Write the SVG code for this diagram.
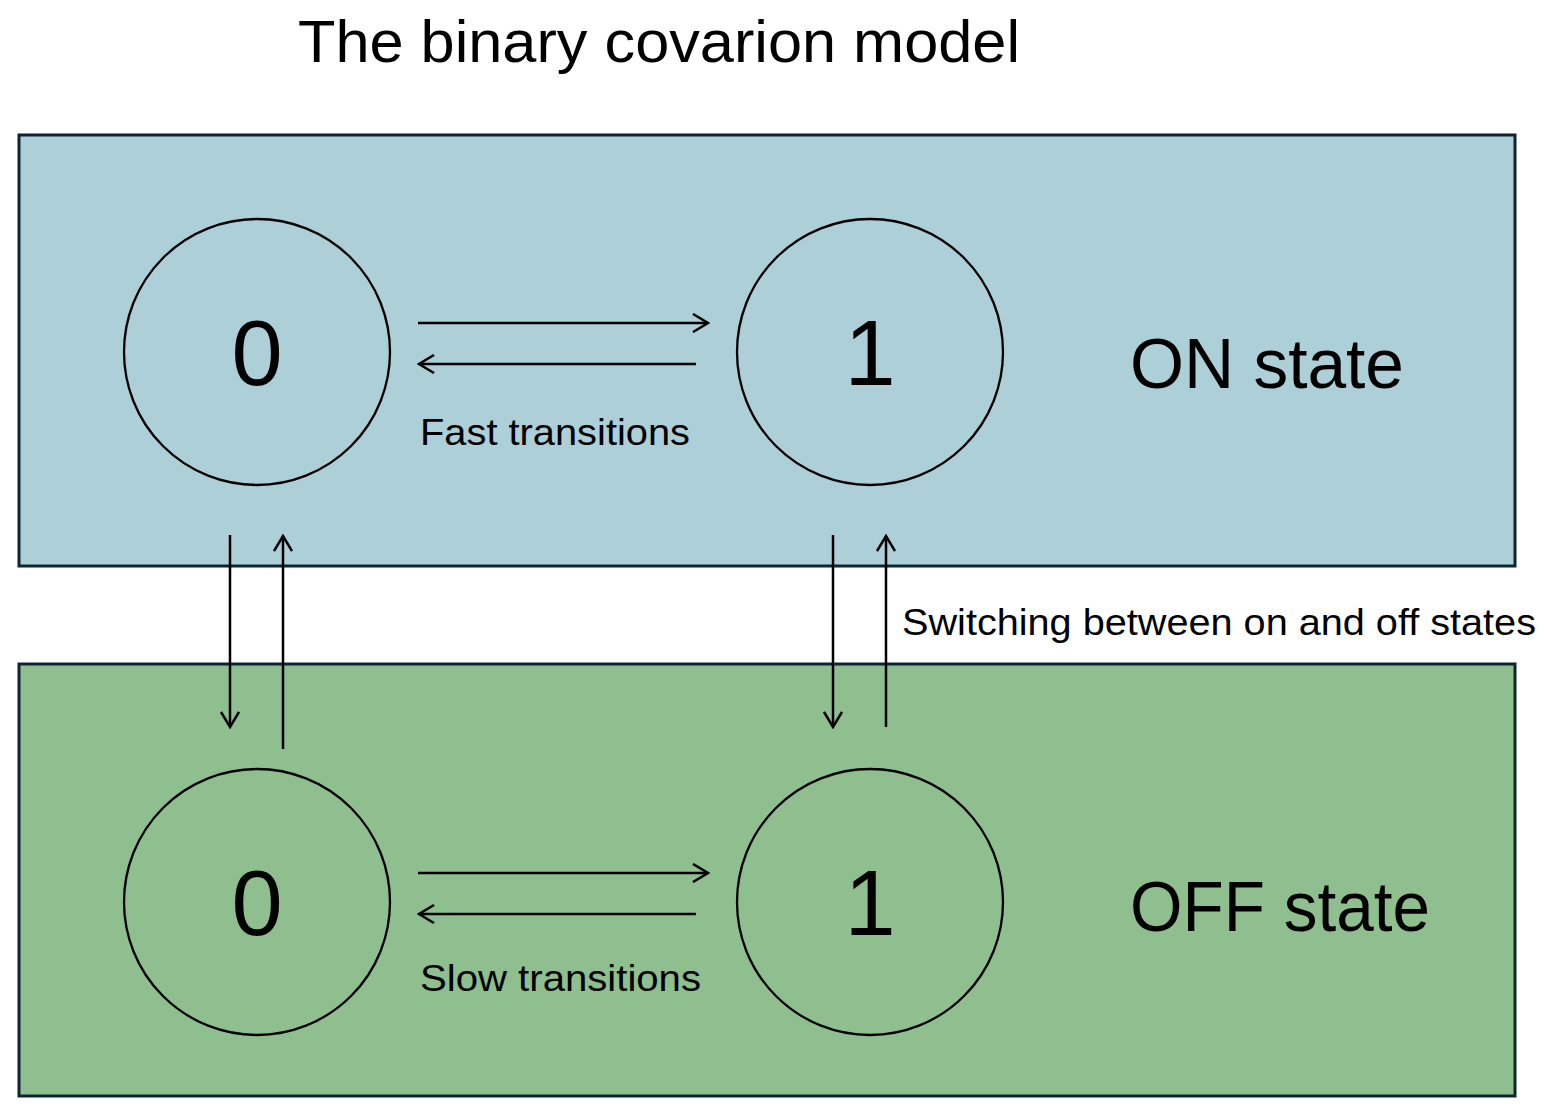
<svg xmlns="http://www.w3.org/2000/svg" width="1544" height="1112" viewBox="0 0 1544 1112">
<defs>
<marker id="ah" viewBox="0 0 18 20" refX="16" refY="10" markerWidth="18" markerHeight="20" markerUnits="userSpaceOnUse" orient="auto">
<path d="M1,1 L16,10 L1,19" fill="none" stroke="#000" stroke-width="2.5"/>
</marker>
</defs>
<style>
.panel{stroke:#0e2433;stroke-width:3}
.node{fill:none;stroke:#000;stroke-width:2.3}
.num{font-family:"Liberation Sans",Arial,sans-serif;font-size:92px;text-anchor:middle;fill:#000}
.lbl{font-family:"Liberation Sans",Arial,sans-serif;fill:#000}
.conn line{stroke:#000;stroke-width:2.5;marker-end:url(#ah)}
</style>
<rect width="1544" height="1112" fill="#fff"/>
<text class="lbl" x="298" y="62" font-size="60" textLength="722" lengthAdjust="spacingAndGlyphs">The binary covarion model</text>
<g id="on-panel"><rect class="panel" x="19" y="135" width="1496" height="431" fill="#adcfd8"/>
<text class="lbl" x="1130" y="388" font-size="70" textLength="274" lengthAdjust="spacingAndGlyphs">ON state</text></g>
<g id="off-panel"><rect class="panel" x="19" y="664" width="1496" height="432" fill="#8fbf8f"/>
<text class="lbl" x="1130" y="931" font-size="70" textLength="300" lengthAdjust="spacingAndGlyphs">OFF state</text></g>
<g id="on0"><circle class="node" cx="257" cy="352" r="133"/><text class="num" x="257" y="385">0</text></g>
<g id="on1"><circle class="node" cx="870" cy="352" r="133"/><text class="num" x="870" y="385">1</text></g>
<g id="off0"><circle class="node" cx="257" cy="902" r="133"/><text class="num" x="257" y="935">0</text></g>
<g id="off1"><circle class="node" cx="870" cy="902" r="133"/><text class="num" x="870" y="935">1</text></g>
<g id="connectors" class="conn">
<line x1="418" y1="323" x2="708" y2="323"/>
<line x1="696" y1="364" x2="419" y2="364"/>
<line x1="418" y1="873" x2="708" y2="873"/>
<line x1="696" y1="914" x2="419" y2="914"/>
<line x1="230" y1="535" x2="230" y2="727"/>
<line x1="283" y1="749" x2="283" y2="536"/>
<line x1="833" y1="535" x2="833" y2="727"/>
<line x1="886" y1="727" x2="886" y2="536"/>
</g>
<text class="lbl" x="420" y="445" font-size="37" textLength="270" lengthAdjust="spacingAndGlyphs">Fast transitions</text>
<text class="lbl" x="420" y="991" font-size="37" textLength="281" lengthAdjust="spacingAndGlyphs">Slow transitions</text>
<text class="lbl" x="902" y="635" font-size="37" textLength="634" lengthAdjust="spacingAndGlyphs">Switching between on and off states</text>
</svg>
